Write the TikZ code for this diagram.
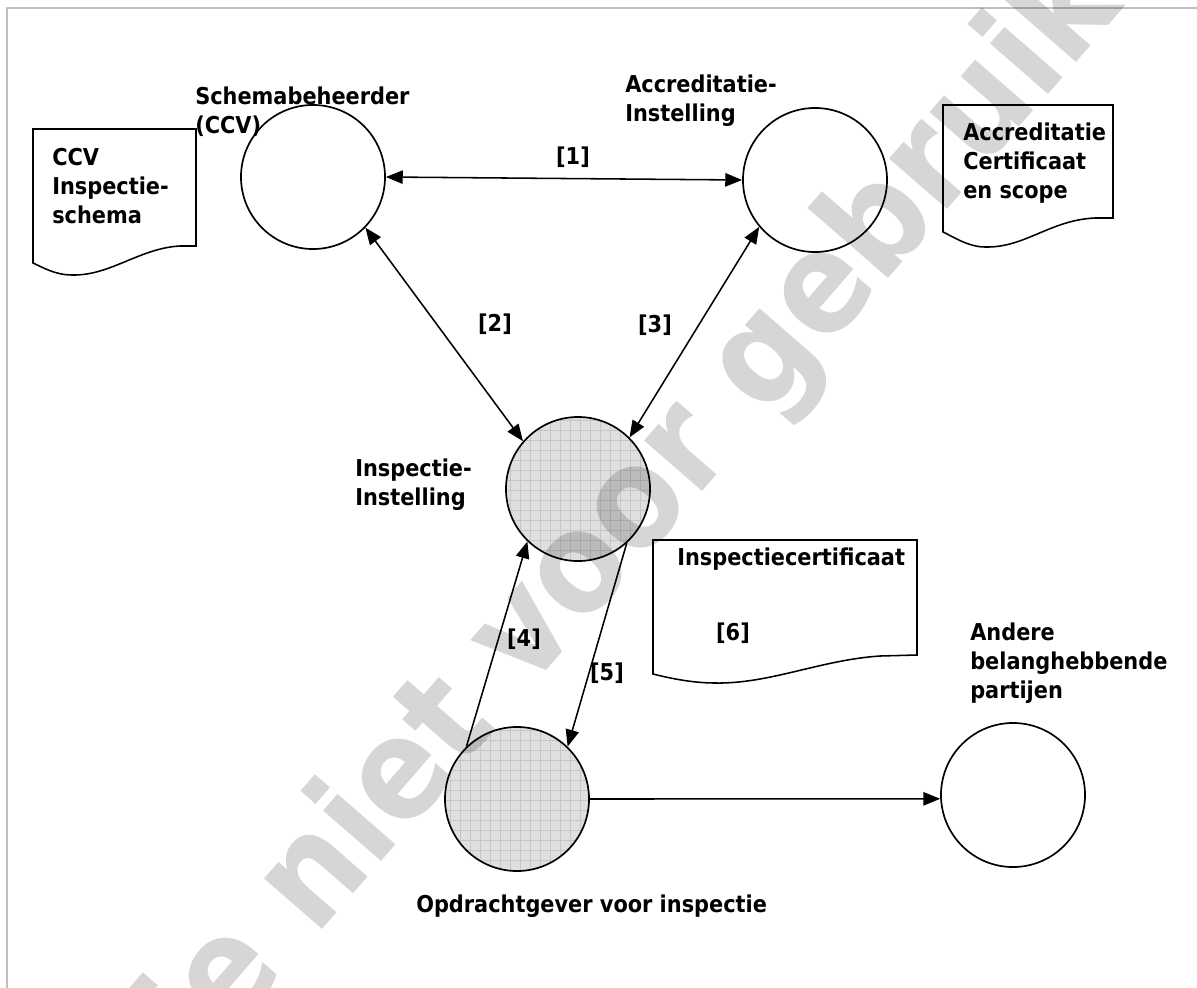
\documentclass[tikz,border=0pt]{standalone}
\usepackage{fontspec}
\setmainfont{DejaVu Sans Condensed}
\usetikzlibrary{arrows.meta}
\begin{document}
\begin{tikzpicture}[x=0.025cm,y=-0.025cm,
  ent/.style={circle,draw=black,line width=1.2pt,minimum size=3.6cm,inner sep=0pt},
  lbl/.style={font=\fontsize{16.5}{20.5}\selectfont\bfseries,align=left,inner sep=0pt,anchor=north west},
  num/.style={font=\fontsize{16.5}{20}\selectfont\bfseries,inner sep=0pt},
  conn/.style={line width=1.1pt,-{Triangle[length=12pt,width=9.5pt]}},
  bconn/.style={line width=1.1pt,{Triangle[length=12pt,width=9.5pt]}-{Triangle[length=12pt,width=9.5pt]}},
  docshape/.style={draw=black,line width=1.1pt,fill=white},
  hatchgrid/.style={draw=gray!45,line width=0.4pt}]
\useasboundingbox (0,0) rectangle (1197,987);
\clip (0,0) rectangle (1197,987);
\fill[white] (0,0) rectangle (1197,987);
% frame
\draw[black!25,line width=1.4pt] (7,1000) -- (7,8) -- (1210,8);
% documents
\draw[docshape] (33,129) -- (196,129) -- (196,246) -- (180,246)
  .. controls (140,248) and (110,276) .. (72,275)
  .. controls (55,275) and (42,267) .. (33,263) -- cycle;
\draw[docshape] (943,105) -- (1113,105) -- (1113,218) -- (1095,218)
  .. controls (1050,220) and (1025,248) .. (985,247)
  .. controls (968,247) and (952,236) .. (943,232) -- cycle;
\draw[docshape] (653,540) -- (917,540) -- (917,655) -- (880,656)
  .. controls (820,660) and (770,684) .. (715,683)
  .. controls (690,683) and (665,677) .. (653,674) -- cycle;
% hatched fills
\begin{scope}
  \clip (578,489) circle[radius=72];
  \fill[gray!25] (500,410) rectangle (660,570);
  \draw[hatchgrid,step=0.25cm] (500,410) grid (660,570);
\end{scope}
\begin{scope}
  \clip (517,799) circle[radius=72];
  \fill[gray!25] (440,720) rectangle (600,880);
  \draw[hatchgrid,step=0.25cm] (440,720) grid (600,880);
\end{scope}
% entities
\node[ent] (S) at (313,177) {};
\node[ent] (A) at (815,180) {};
\node[ent] (I) at (578,489) {};
\node[ent] (O) at (517,799) {};
\node[ent] (N) at (1013,795) {};
% connectors
\draw[bconn] (S.east) -- (A.west);
\draw[bconn] (S.-44) -- (I.139);
\draw[bconn] (A.220) -- (I.45);
\draw[conn] (O.134) -- (I.226);
\draw[conn] (I.-48) -- (O.46);
\draw[conn] (O.0) -- (N.183);
% labels
\node[lbl] (lS) at (195,87) {Schemabeheerder\\(CCV)};
\node[lbl] (lA) at (625,75) {Accreditatie-\\Instelling};
\node[lbl] (lI) at (355,459) {Inspectie-\\Instelling};
\node[lbl] (lO) at (416,895) {Opdrachtgever voor inspectie};
\node[lbl] (lN) at (970,623) {Andere\\belanghebbende\\partijen};
\node[lbl] (dC) at (52,148) {CCV\\Inspectie-\\schema};
\node[lbl] (dA) at (963,123) {Accreditatie\\Certificaat\\en scope};
\node[lbl] (dI) at (677,548) {Inspectiecertificaat};
\node[num] (n1) at (573,157) {[1]};
\node[num] (n2) at (495,324) {[2]};
\node[num] (n3) at (655,325) {[3]};
\node[num] (n4) at (524,639) {[4]};
\node[num] (n5) at (607,673) {[5]};
\node[num] (n6) at (733,633) {[6]};
% watermark
\node[rotate=49,text=black,text opacity=0.16,inner sep=0pt] (wm) at (545,615)
  {\fontsize{100}{100}\selectfont\bfseries Kopie niet voor gebruik};
\end{tikzpicture}
\end{document}
